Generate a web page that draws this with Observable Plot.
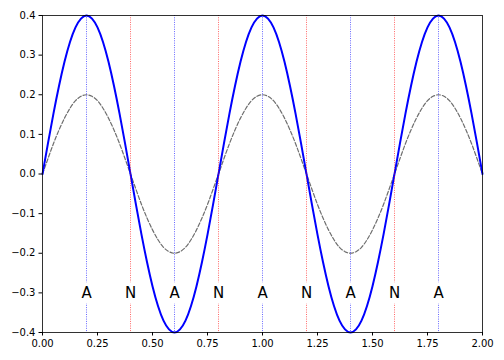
<!DOCTYPE html>
<html>
<head>
<meta charset="utf-8">
<script src="https://cdn.jsdelivr.net/npm/d3@7"></script>
<script src="https://cdn.jsdelivr.net/npm/@observablehq/plot@0.6"></script>
<style>
  html, body { margin: 0; padding: 0; background: #fff; }
  #chart svg { display: block; }
</style>
</head>
<body>
<div id="chart"></div>
<script>
// sampled positions (step 0.025)
const xs = d3.range(0, 81).map(i => +(i * 0.025).toFixed(3));
// blue (thick) wave values
const blueVals = [
  0, 0.078, 0.153, 0.222, 0.283, 0.333, 0.370, 0.392, 0.400, 0.392, 0.370, 0.333, 0.283, 0.222, 0.153, 0.078,
  0, -0.078, -0.153, -0.222, -0.283, -0.333, -0.370, -0.392, -0.400, -0.392, -0.370, -0.333, -0.283, -0.222, -0.153, -0.078,
  0, 0.078, 0.153, 0.222, 0.283, 0.333, 0.370, 0.392, 0.400, 0.392, 0.370, 0.333, 0.283, 0.222, 0.153, 0.078,
  0, -0.078, -0.153, -0.222, -0.283, -0.333, -0.370, -0.392, -0.400, -0.392, -0.370, -0.333, -0.283, -0.222, -0.153, -0.078,
  0, 0.078, 0.153, 0.222, 0.283, 0.333, 0.370, 0.392, 0.400, 0.392, 0.370, 0.333, 0.283, 0.222, 0.153, 0.078,
  0
];
// gray (dashed) wave values
const grayVals = [
  0, 0.039, 0.077, 0.111, 0.141, 0.166, 0.185, 0.196, 0.200, 0.196, 0.185, 0.166, 0.141, 0.111, 0.077, 0.039,
  0, -0.039, -0.077, -0.111, -0.141, -0.166, -0.185, -0.196, -0.200, -0.196, -0.185, -0.166, -0.141, -0.111, -0.077, -0.039,
  0, 0.039, 0.077, 0.111, 0.141, 0.166, 0.185, 0.196, 0.200, 0.196, 0.185, 0.166, 0.141, 0.111, 0.077, 0.039,
  0, -0.039, -0.077, -0.111, -0.141, -0.166, -0.185, -0.196, -0.200, -0.196, -0.185, -0.166, -0.141, -0.111, -0.077, -0.039,
  0, 0.039, 0.077, 0.111, 0.141, 0.166, 0.185, 0.196, 0.200, 0.196, 0.185, 0.166, 0.141, 0.111, 0.077, 0.039,
  0
];
// antinodes and nodes
const antinodes = [0.2, 0.6, 1.0, 1.4, 1.8];
const nodes = [0.4, 0.8, 1.2, 1.6];
const labelY = -0.3;
const xTicks = [0, 0.25, 0.5, 0.75, 1.0, 1.25, 1.5, 1.75, 2.0];
const yTicks = [-0.4, -0.3, -0.2, -0.1, 0.0, 0.1, 0.2, 0.3, 0.4];

const blue = xs.map((x, i) => ({x, y: blueVals[i]}));
const gray = xs.map((x, i) => ({x, y: grayVals[i]}));
const labels = [
  ...antinodes.map(x => ({x, t: "A"})),
  ...nodes.map(x => ({x, t: "N"}))
];

const chart = Plot.plot({
  width: 504,
  height: 360,
  marginLeft: 42,
  marginRight: 22,
  marginTop: 15,
  marginBottom: 28,
  style: {fontFamily: "DejaVu Sans", fontSize: "10px", color: "black", background: "white"},
  x: {domain: [0, 2]},
  y: {domain: [-0.4, 0.4]},
  marks: [
    Plot.line(gray, {x: "x", y: "y", stroke: "#6e6e6e", strokeWidth: 1.2, strokeDasharray: "4,2", curve: "natural"}),
    Plot.line(blue, {x: "x", y: "y", stroke: "blue", strokeWidth: 2, curve: "natural"}),
    Plot.ruleX(antinodes, {stroke: "blue", strokeWidth: 0.8, strokeOpacity: 0.75, strokeDasharray: "1,1.3"}),
    Plot.ruleX(nodes, {stroke: "red", strokeWidth: 0.8, strokeOpacity: 0.75, strokeDasharray: "1,1.3"}),
    Plot.dot(labels, {x: "x", y: () => labelY, symbol: "square", r: 12, fill: "white", stroke: "none"}),
    Plot.text(labels, {x: "x", y: () => labelY, text: "t", fontSize: 15, fontWeight: "normal", fill: "black"}),
    Plot.frame({stroke: "black", strokeWidth: 0.8}),
    Plot.axisX({ticks: xTicks, tickFormat: d3.format(".2f"), tickSize: 3.5, tickPadding: 3.5, label: null, fontSize: 10}),
    Plot.axisY({ticks: yTicks, tickFormat: d3.format(".1f"), tickSize: 3.5, tickPadding: 3.5, label: null, fontSize: 10})
  ]
});
document.getElementById("chart").appendChild(chart);
</script>
</body>
</html>
